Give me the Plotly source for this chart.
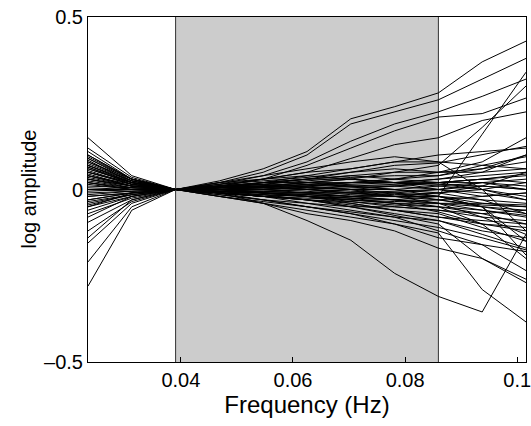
import plotly.graph_objects as go

# Frequency bins (Hz): 6/256 ... 26/256, step 2/256
freq_bins = [6, 8, 10, 12, 14, 16, 18, 20, 22, 24, 26]
freqs = [b / 256 for b in freq_bins]

band_lo = 10 / 256
band_hi = 22 / 256

x_tickvals = [0.04, 0.06, 0.08, 0.1]
x_ticktext = ["0.04", "0.06", "0.08", "0.1"]
y_tickvals = [-0.5, 0, 0.5]
y_ticktext = ["\u20130.5", "0", "0.5"]

log_amp = [
    [0.15, 0.04, 0, 0.025, 0.06, 0.11, 0.205, 0.24, 0.28, 0.37, 0.43],
    [0.12, 0.035, 0, 0.02, 0.05, 0.10, 0.19, 0.225, 0.26, 0.32, 0.38],
    [0.10, 0.03, 0, 0.02, 0.04, 0.08, 0.14, 0.19, 0.225, 0.27, 0.32],
    [0.08, 0.03, 0, 0.01, 0.03, 0.07, 0.12, 0.17, 0.21, 0.22, 0.265],
    [0.06, 0.02, 0, 0.01, 0.03, 0.05, 0.09, 0.13, 0.15, 0.20, 0.225],
    [-0.28, -0.06, 0, 0.015, 0.04, 0.06, 0.08, 0.095, 0.08, 0.07, 0.06],
    [-0.05, -0.02, 0, -0.01, -0.04, -0.09, -0.147, -0.243, -0.31, -0.355, -0.13],
    [0.02, 0.0, 0, -0.01, -0.03, -0.05, -0.07, -0.10, -0.126, -0.29, -0.384],
    [-0.03, -0.01, 0, 0.0, -0.01, -0.01, -0.02, -0.02, -0.02, 0.16, 0.34],
    [0.05, 0.02, 0, 0.01, 0.01, 0.02, 0.03, 0.05, 0.07, 0.18, 0.30],
    [0.04, 0.01, 0, 0.01, 0.02, 0.03, 0.05, 0.07, 0.077, 0.10, 0.125],
    [0.0, 0.0, 0, 0.0, 0.01, 0.02, 0.02, 0.03, 0.04, 0.07, 0.095],
    [0.09, 0.03, 0, 0.005, 0.015, 0.03, 0.04, 0.05, 0.05, 0.08, 0.15],
    [-0.21, -0.05, 0, -0.01, -0.02, -0.04, -0.06, -0.08, -0.12, -0.16, -0.235],
    [0.07, 0.02, 0, -0.02, -0.04, -0.07, -0.09, -0.12, -0.17, -0.20, -0.26],
    [-0.155, -0.04, 0, -0.015, -0.03, -0.05, -0.07, -0.09, -0.11, -0.14, -0.175],
    [0.03, 0.01, 0, -0.005, -0.01, -0.02, -0.04, -0.06, -0.08, -0.10, -0.12],
    [-0.14, -0.03, 0, -0.01, -0.02, -0.03, -0.05, -0.075, -0.10, -0.20, -0.27],
    [0.11, 0.03, 0, 0.005, 0.01, 0.01, 0.02, 0.02, 0.03, 0.04, 0.05],
    [0.05, 0.015, 0, 0.0, 0.0, -0.01, -0.01, -0.02, -0.02, -0.03, -0.04],
    [-0.02, -0.01, 0, 0.005, 0.01, 0.02, 0.01, 0.0, 0.01, 0.02, 0.0],
    [0.03, 0.005, 0, -0.005, -0.01, -0.015, -0.02, -0.03, -0.05, -0.06, -0.08],
    [-0.08, -0.02, 0, 0.0, 0.005, 0.0, -0.01, -0.005, 0.0, 0.02, 0.03],
    [0.065, 0.02, 0, 0.01, 0.02, 0.02, 0.03, 0.02, 0.01, 0.0, -0.02],
    [-0.095, -0.03, 0, -0.01, -0.015, -0.02, -0.03, -0.04, -0.05, -0.07, -0.10],
    [0.0, -0.005, 0, 0.0, -0.005, -0.01, -0.02, -0.01, 0.0, -0.01, -0.03],
    [0.04, 0.01, 0, 0.01, 0.015, 0.025, 0.035, 0.04, 0.04, 0.06, 0.08],
    [-0.04, -0.015, 0, -0.005, -0.01, -0.02, -0.035, -0.05, -0.06, -0.08, -0.13],
    [0.075, 0.025, 0, 0.0, 0.01, 0.0, -0.005, -0.01, -0.03, -0.05, -0.06],
    [0.02, 0.0, 0, -0.01, -0.02, -0.03, -0.04, -0.06, -0.07, -0.11, -0.15],
    [-0.06, -0.02, 0, 0.005, 0.02, 0.03, 0.04, 0.03, 0.02, 0.03, 0.04],
    [0.09, 0.025, 0, -0.005, -0.005, 0.0, 0.005, 0.01, 0.0, -0.02, -0.01],
    [0.01, 0.005, 0, 0.0, 0.0, 0.005, 0.0, -0.02, -0.04, -0.08, -0.09],
    [-0.01, -0.005, 0, 0.01, 0.015, 0.01, 0.02, 0.03, 0.05, 0.06, 0.10],
    [0.055, 0.015, 0, -0.01, -0.02, -0.025, -0.03, -0.035, -0.03, -0.045, -0.05],
    [-0.03, -0.01, 0, -0.015, -0.03, -0.04, -0.05, -0.07, -0.09, -0.13, -0.17],
    [0.085, 0.02, 0, 0.005, 0.005, 0.015, 0.01, 0.0, -0.01, 0.0, 0.02],
    [0.035, 0.01, 0, -0.005, 0.0, -0.005, -0.015, -0.02, -0.01, -0.03, -0.07],
    [-0.12, -0.035, 0, -0.005, -0.01, -0.015, -0.02, -0.03, -0.04, -0.06, -0.075],
    [0.045, 0.01, 0, 0.015, 0.025, 0.035, 0.05, 0.06, 0.05, 0.05, 0.06],
    [0.015, 0.0, 0, -0.01, -0.015, -0.02, -0.025, -0.04, -0.065, -0.10, -0.11],
    [-0.05, -0.01, 0, 0.0, 0.0, 0.01, 0.015, 0.02, 0.015, 0.01, 0.0],
    [0.10, 0.03, 0, 0.01, 0.01, 0.005, 0.0, -0.01, -0.02, -0.04, -0.045],
    [0.025, 0.005, 0, -0.02, -0.035, -0.05, -0.065, -0.08, -0.09, -0.12, -0.14],
    [-0.07, -0.025, 0, -0.01, -0.005, -0.01, 0.0, 0.01, 0.02, 0.03, 0.02],
    [0.06, 0.02, 0, 0.005, 0.01, 0.015, 0.02, 0.02, 0.03, 0.05, 0.10],
    [-0.015, -0.005, 0, 0.0, -0.01, -0.02, -0.025, -0.03, -0.02, -0.05, -0.19],
    [0.07, 0.02, 0, -0.01, -0.02, -0.03, -0.035, -0.045, -0.05, -0.10, -0.20],
    [0.005, 0.0, 0, 0.005, 0.005, 0.0, 0.01, 0.01, 0.02, 0.0, -0.03],
    [-0.02, -0.01, 0, -0.005, -0.015, -0.03, -0.045, -0.06, -0.08, -0.09, -0.10],
    [0.08, 0.025, 0, 0.01, 0.02, 0.03, 0.03, 0.02, 0.0, 0.01, 0.05],
    [0.03, 0.01, 0, 0.0, 0.005, 0.01, 0.0, 0.0, -0.02, -0.05, -0.15],
    [-0.035, -0.015, 0, 0.005, 0.005, 0.0, -0.01, -0.02, -0.03, -0.02, -0.01],
    [0.05, 0.015, 0, 0.0, -0.01, -0.01, -0.01, -0.015, -0.01, 0.01, 0.0],
    [0.095, 0.03, 0, 0.015, 0.03, 0.05, 0.06, 0.08, 0.10, 0.11, 0.12],
    [-0.005, 0.0, 0, -0.01, -0.02, -0.03, -0.05, -0.05, -0.06, -0.07, -0.06],
    [0.04, 0.015, 0, 0.0, 0.0, 0.005, 0.01, 0.015, 0.02, 0.03, 0.045],
    [0.0, 0.0, 0, 0.0, -0.01, -0.02, -0.03, -0.04, -0.04, -0.05, -0.07],
    [-0.045, -0.015, 0, -0.01, -0.02, -0.015, -0.025, -0.03, -0.04, -0.04, -0.05],
    [0.065, 0.015, 0, -0.02, -0.04, -0.06, -0.08, -0.10, -0.14, -0.16, -0.18],
    [0.02, 0.005, 0, 0.02, 0.03, 0.04, 0.03, 0.02, 0.02, 0.02, 0.01],
    [0.07, 0.025, 0, 0.005, 0.02, 0.04, 0.06, 0.08, 0.08, 0.0, -0.12],
]

fig = go.Figure()
for row in log_amp:
    fig.add_trace(go.Scatter(
        x=freqs, y=row, mode="lines",
        line=dict(color="black", width=1),
        showlegend=False, hoverinfo="skip",
    ))

fig.add_shape(type="rect", xref="x", yref="paper",
              x0=band_lo, x1=band_hi, y0=0, y1=1,
              fillcolor="#cccccc", line=dict(width=0), layer="below")
for xv in (band_lo, band_hi):
    fig.add_shape(type="line", xref="x", yref="paper",
                  x0=xv, x1=xv, y0=0, y1=1,
                  line=dict(color="#333333", width=1), layer="below")

font_family = "Liberation Sans, Arial, Helvetica, sans-serif"

fig.add_annotation(
    text="log amplitude", textangle=-90,
    xref="paper", yref="paper", x=0, y=0.5,
    xanchor="center", yanchor="middle", xshift=-60,
    showarrow=False, font=dict(size=20, color="black", family=font_family),
)

fig.update_layout(
    width=531, height=426,
    margin=dict(l=88, r=5, t=17, b=64, autoexpand=False),
    paper_bgcolor="white", plot_bgcolor="white",
    font=dict(family=font_family, size=20, color="black"),
    xaxis=dict(
        range=[freqs[0], freqs[-1]],
        tickvals=x_tickvals, ticktext=x_ticktext,
        ticks="inside", ticklen=5, tickcolor="black", tickwidth=1,
        ticklabeloverflow="allow", automargin=False,
        showline=True, linecolor="black", linewidth=1, mirror=True,
        showgrid=False, zeroline=False,
        title=dict(text="Frequency (Hz)", standoff=4),
        tickfont=dict(size=20),
    ),
    yaxis=dict(
        range=[-0.5, 0.5],
        tickvals=y_tickvals, ticktext=y_ticktext,
        ticks="inside", ticklen=5, tickcolor="black", tickwidth=1,
        automargin=False,
        showline=True, linecolor="black", linewidth=1, mirror=True,
        showgrid=False, zeroline=False,
        tickfont=dict(size=20),
    ),
)

fig.write_html("out.html")
